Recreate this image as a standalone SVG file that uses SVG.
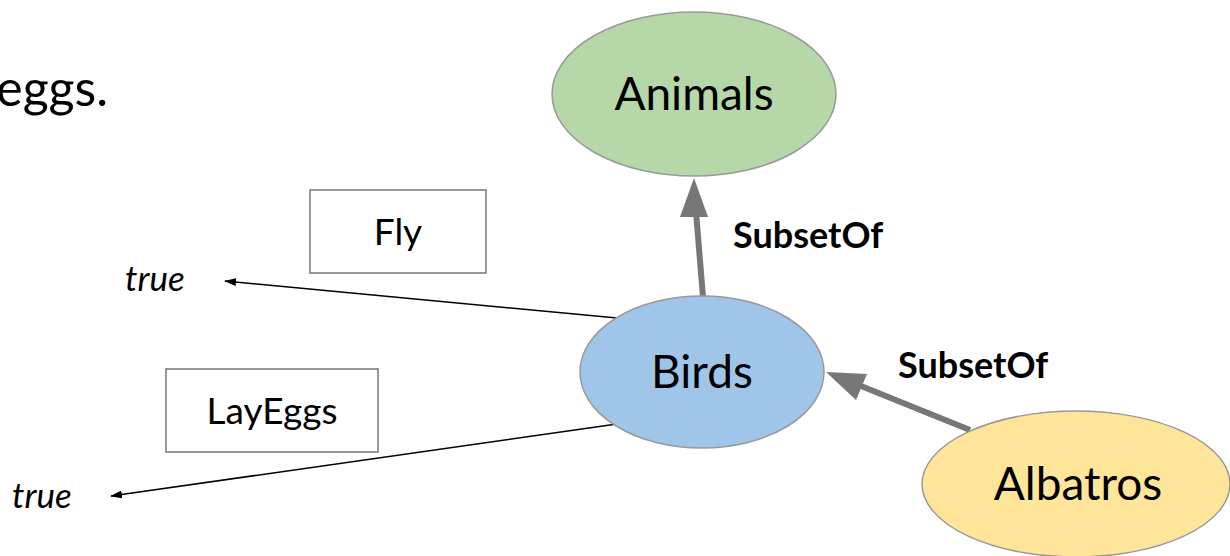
<svg xmlns="http://www.w3.org/2000/svg" width="1230" height="556" viewBox="0 0 1230 556">
  <style>
    text { font-family: Lato, "Liberation Sans", sans-serif; fill: #000; }
    .node { stroke: #999999; stroke-width: 1.5; }
    .big { font-size: 46px; text-anchor: middle; }
    .box { fill: #ffffff; stroke: #777777; stroke-width: 1.5; }
    .boxlabel { font-size: 37px; text-anchor: middle; }
    .rel { font-size: 36px; font-weight: bold; }
    .val { font-size: 35px; font-style: italic; }
    .thick { stroke: #777777; stroke-width: 6; fill: none; }
    .thin { stroke: #000000; stroke-width: 1.5; fill: none; }
  </style>
  <defs>
    <marker id="thinHead" markerWidth="12" markerHeight="8" refX="11" refY="4" orient="auto" markerUnits="userSpaceOnUse">
      <path d="M0,0 L12,4 L0,8 Z" fill="#000"/>
    </marker>
  </defs>

  <text x="108" y="106" style="font-size:50px" text-anchor="end">eggs.</text>

  <g id="connectors">
    <!-- Birds to Animals -->
    <line class="thick" x1="703" y1="297" x2="696" y2="212"/>
    <path d="M694,178 L708,217 L680,217 Z" fill="#777777"/>
    <!-- Albatros to Birds -->
    <line class="thick" x1="970" y1="430" x2="856" y2="384"/>
    <path d="M826,372 L867,374 L856,400 Z" fill="#777777"/>
    <!-- Birds property arrows -->
    <line class="thin" x1="617" y1="318" x2="225" y2="281" marker-end="url(#thinHead)"/>
    <line class="thin" x1="617" y1="424" x2="111" y2="496" marker-end="url(#thinHead)"/>
  </g>

  <g id="animals">
    <ellipse class="node" cx="694" cy="94" rx="142" ry="82" fill="#b6d7a8"/>
    <text class="big" x="694" y="110">Animals</text>
  </g>

  <g id="birds">
    <ellipse class="node" cx="702" cy="372" rx="122" ry="76" fill="#9fc5e8"/>
    <text class="big" x="702" y="388">Birds</text>
  </g>

  <g id="albatros">
    <ellipse class="node" cx="1076" cy="484" rx="154" ry="73" fill="#ffe599"/>
    <text class="big" x="1078" y="500">Albatros</text>
  </g>

  <g id="fly">
    <rect class="box" x="310" y="190" width="176" height="83"/>
    <text class="boxlabel" x="398" y="245">Fly</text>
  </g>

  <g id="layeggs">
    <rect class="box" x="166" y="369" width="212" height="83"/>
    <text class="boxlabel" x="272" y="424">LayEggs</text>
  </g>

  <text class="rel" x="733" y="248">SubsetOf</text>
  <text class="rel" x="898" y="378">SubsetOf</text>
  <text class="val" x="125" y="291">true</text>
  <text class="val" x="12" y="508">true</text>
</svg>
